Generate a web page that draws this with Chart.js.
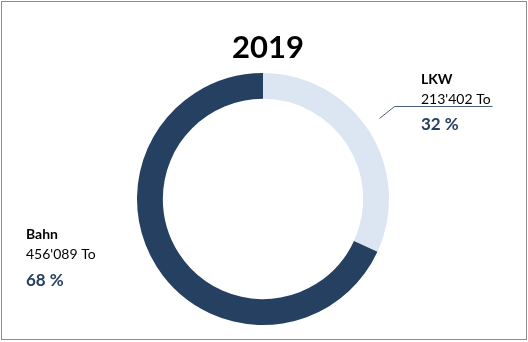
<!DOCTYPE html>
<html>
<head>
<meta charset="utf-8">
<script src="https://cdn.jsdelivr.net/npm/chart.js@4"></script>
<style>
	body { margin: 0; background: #fff; }
	#wrap { position: relative; width: 528px; height: 342px; }
	#frame {
		position: absolute; left: 1px; top: 1px; width: 524px; height: 337px;
		border: 1px solid #8c8c8c; pointer-events: none;
	}
	canvas { position: absolute; left: 0; top: 0; }
</style>
</head>
<body>
<div id="wrap">
	<canvas id="donut" width="528" height="342"></canvas>
	<div id="frame"></div>
</div>
<script>
// Data
const categories = ["LKW", "Bahn"];
const tonnes = [213402, 456089];
const percentLabels = ["32 %", "68 %"];
const tonneLabels = ["213'402 To", "456'089 To"];
const sliceColors = ["#dce6f2", "#254061"];
const title = "2019";

const FONT = "Lato, 'Open Sans', sans-serif";

// Draw title and callout labels on top of the doughnut
const labelPlugin = {
	id: "labels",
	afterDraw(chart) {
		const ctx = chart.ctx;
		ctx.save();
		ctx.textBaseline = "alphabetic";

		// title
		ctx.fillStyle = "#000";
		ctx.textAlign = "center";
		ctx.font = `bold 31px ${FONT}`;
		ctx.fillText(title, 268, 58);

		ctx.textAlign = "left";
		// LKW callout
		ctx.font = `bold 14px ${FONT}`;
		ctx.fillStyle = "#000";
		ctx.fillText(categories[0], 421, 84);
		ctx.font = `14px ${FONT}`;
		ctx.fillText(tonneLabels[0], 421, 104);
		ctx.font = `bold 17px ${FONT}`;
		ctx.fillStyle = "#254061";
		ctx.fillText(percentLabels[0], 421, 130);

		// leader line
		ctx.strokeStyle = "#4a5f80";
		ctx.lineWidth = 1;
		ctx.beginPath();
		ctx.moveTo(379.5, 118.5);
		ctx.lineTo(394.5, 106.5);
		ctx.lineTo(492.5, 106.5);
		ctx.stroke();

		// Bahn callout
		ctx.font = `bold 14px ${FONT}`;
		ctx.fillStyle = "#000";
		ctx.fillText(categories[1], 26, 239);
		ctx.font = `14px ${FONT}`;
		ctx.fillText(tonneLabels[1], 26, 259);
		ctx.font = `bold 17px ${FONT}`;
		ctx.fillStyle = "#254061";
		ctx.fillText(percentLabels[1], 26, 286);

		ctx.restore();
	},
};

new Chart(document.getElementById("donut").getContext("2d"), {
	type: "doughnut",
	data: {
		labels: categories,
		datasets: [
			{
				data: tonnes,
				backgroundColor: sliceColors,
				borderWidth: 0,
			},
		],
	},
	options: {
		responsive: false,
		animation: false,
		cutout: "79.5%",
		layout: { padding: { top: 73, bottom: 17, left: 137, right: 139 } },
		plugins: {
			legend: { display: false },
			tooltip: { enabled: false },
		},
	},
	plugins: [labelPlugin],
});
</script>
</body>
</html>
